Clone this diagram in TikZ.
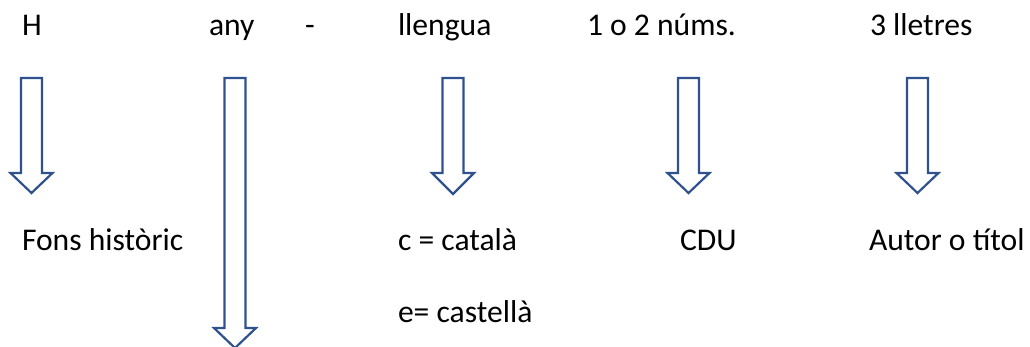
\documentclass[tikz,border=0pt]{standalone}
\usepackage{fontspec}
\setmainfont{Carlito}
\definecolor{arrowblue}{RGB}{47,82,143}
\tikzset{
  lbl/.style={anchor=base west, inner sep=0pt, outer sep=0pt, font=\fontsize{31.6}{38}\selectfont, text=black},
  blockarrow/.style={draw=arrowblue, line width=2.2pt, fill=white, line join=miter}
}
\newcommand{\blockarr}[4]{% center x, top y, head y, tip y
  \draw[blockarrow] (#1-10.5,#2) -- (#1+10.5,#2) -- (#1+10.5,#3) -- (#1+21,#3) -- (#1,#4) -- (#1-21,#3) -- (#1-10.5,#3) -- cycle;
}
\begin{document}
\begin{tikzpicture}[x=1pt,y=-1pt]
\useasboundingbox (0,0) rectangle (1030,347);
% top row
\node[lbl] (h) at (22,36) {H};
\node[lbl] (any) at (209,36) {any};
\node[lbl] (dash) at (305,36) {-};
\node[lbl] (llengua) at (398,36) {llengua};
\node[lbl] (nums) at (587,36) {1 o 2 núms.};
\node[lbl] (lletres) at (870,36) {3 lletres};
% arrows
\blockarr{31.5}{78}{173}{193}
\blockarr{235}{78}{328}{348}
\blockarr{453}{78}{173}{194}
\blockarr{688.5}{78}{173}{193}
\blockarr{917.5}{78}{173}{193}
% bottom row
\node[lbl] (fons) at (22,251) {Fons històric};
\node[lbl] (cat) at (398,251) {c = català};
\node[lbl] (cdu) at (680,251) {CDU};
\node[lbl] (autor) at (869,251) {Autor o títol};
\node[lbl] (cast) at (398,322) {e= castellà};
\end{tikzpicture}
\end{document}
